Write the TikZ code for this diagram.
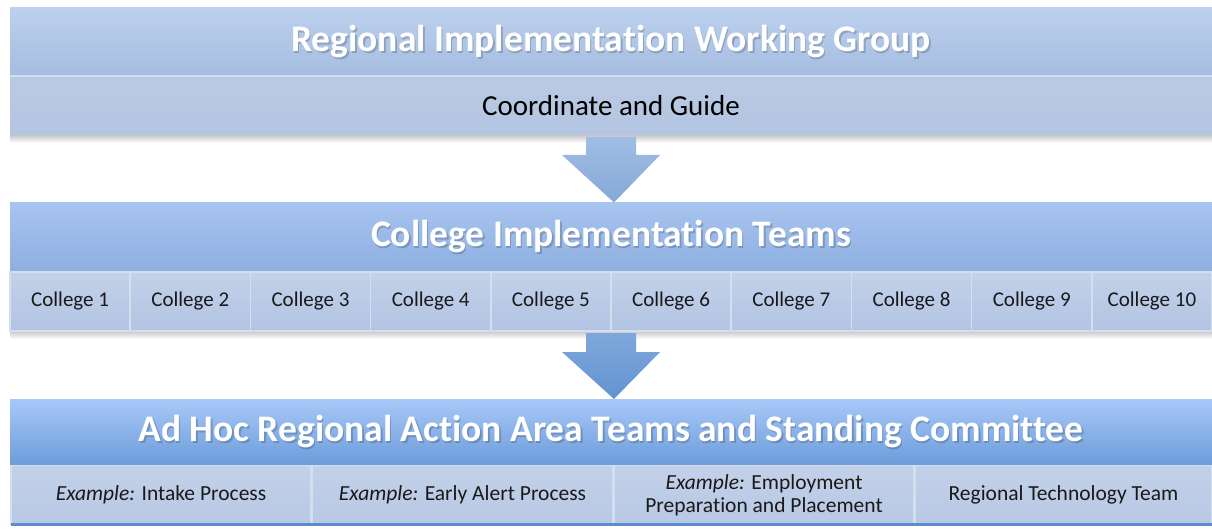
\documentclass[tikz,border=0pt]{standalone}
\usepackage{fontspec}
\setmainfont{Carlito}[Ligatures={NoCommon}]
\usetikzlibrary{calc}
\definecolor{rhTop}{HTML}{BDD0EE}
\definecolor{rhBot}{HTML}{A4BDE0}
\definecolor{rsTop}{HTML}{BACAE4}
\definecolor{rsBot}{HTML}{B3C5E1}
\definecolor{chTop}{HTML}{A8C4F0}
\definecolor{chBot}{HTML}{8DAFE0}
\definecolor{ccTop}{HTML}{C3D1E9}
\definecolor{ccBot}{HTML}{B2C4E3}
\definecolor{ahTop}{HTML}{A8C8F8}
\definecolor{ahBot}{HTML}{6C9CDA}
\definecolor{acTop}{HTML}{C3D0E8}
\definecolor{acBot}{HTML}{B8C9E5}
\definecolor{cellLine}{HTML}{D3DEEF}
\definecolor{arOneTop}{HTML}{A0BDE4}
\definecolor{arOneBot}{HTML}{86A9D8}
\definecolor{arTwoTop}{HTML}{7EA8DC}
\definecolor{arTwoBot}{HTML}{6393CF}
\definecolor{baseLine}{HTML}{5B8CCB}
\newcommand{\exlabel}{{\itshape Example:}}
\tikzset{
  band/.style={rectangle, inner sep=0pt, outer sep=0pt, minimum width=1202pt},
  headfont/.style={font=\fontsize{37.5}{40}\selectfont\bfseries},
  headtext/.style={text=white, headfont},
  headshadow/.style={text=black, text opacity=0.18, headfont, inner sep=0pt},
  subtext/.style={text=black, font=\fontsize{29}{32}\selectfont},
  cell/.style={rectangle, inner sep=0pt, outer sep=0pt, draw=cellLine, line width=1.5pt,
    top color=ccTop, bottom color=ccBot, font=\fontsize{21}{24}\selectfont, text=black!90},
  acell/.style={rectangle, inner sep=0pt, outer sep=0pt, draw=cellLine, line width=1.5pt,
    top color=acTop, bottom color=acBot, font=\fontsize{21.5}{23}\selectfont, text=black!90,
    align=center, minimum width=300pt, minimum height=59pt},
  shadowband/.style={top color=black!22, bottom color=white, draw=none},
}
\begin{document}
\begin{tikzpicture}[x=1pt,y=-1pt]
\useasboundingbox[fill=white] (0,0) rectangle (1212,529);
% shadows
\shade[shadowband] (10,135) rectangle (1212,143);
\shade[shadowband] (10,331) rectangle (1212,339);
% top band
\node[band, top color=rhTop, bottom color=rhBot, minimum height=68pt] (rh) at (611,42) {};
\node[headshadow] (rhs) at ($(rh.center)+(1.5,2)$) {Regional Implementation Working Group};
\node[headtext] (rht) at (rh.center) {Regional Implementation Working Group};
\node[band, top color=rsTop, bottom color=rsBot, minimum height=58pt, subtext] (rs) at (611,106) {Coordinate and Guide};
\draw[cellLine, line width=1.5pt] (rh.south west) -- (rh.south east);
% middle band
\node[band, top color=chTop, bottom color=chBot, minimum height=69pt] (ch) at (611,237) {};
\node[headshadow] (chs) at ($(ch.center)+(1.5,2)$) {College Implementation Teams};
\node[headtext] (cht) at (ch.center) {College Implementation Teams};
\foreach \i in {1,...,10}{
  \node[cell, minimum width=120.2pt, minimum height=59pt] (c\i) at ({10+120.2*(\i-0.5)},301.5) {College \i};
}
% bottom band
\node[band, top color=ahTop, bottom color=ahBot, minimum height=66pt] (ah) at (611,432) {};
\node[headshadow] (ahs) at ($(ah.center)+(1.5,2)$) {Ad Hoc Regional Action Area Teams and Standing Committee};
\node[headtext] (aht) at (ah.center) {Ad Hoc Regional Action Area Teams and Standing Committee};
\node[acell] (a1) at (161,495) {\exlabel{} Intake Process};
\node[acell] (a2) at (462.5,495) {\exlabel{} Early Alert Process};
\node[acell] (a3) at (764,495) {\exlabel{} Employment\\Preparation and Placement};
\node[acell, minimum width=297pt] (a4) at (1063.5,495) {Regional Technology Team};
\draw[baseLine, line width=2.5pt] (a1.south west) -- (a4.south east);
% arrows
\shade[top color=arOneTop, bottom color=arOneBot]
  ($(rs.south)+(-25,2)$) -- ($(rs.south)+(25,2)$) -- ($(rs.south)+(25,20)$) -- ($(rs.south)+(49,20)$)
  -- ($(ch.north)+(3,0)$) -- ($(rs.south)+(-49,20)$) -- ($(rs.south)+(-25,20)$) -- cycle;
\shade[top color=arTwoTop, bottom color=arTwoBot]
  ($(c5.south east)+(-25,2)$) -- ($(c5.south east)+(25,2)$) -- ($(c5.south east)+(25,21)$) -- ($(c5.south east)+(49,21)$)
  -- ($(ah.north)+(3,0)$) -- ($(c5.south east)+(-49,21)$) -- ($(c5.south east)+(-25,21)$) -- cycle;
\end{tikzpicture}
\end{document}
